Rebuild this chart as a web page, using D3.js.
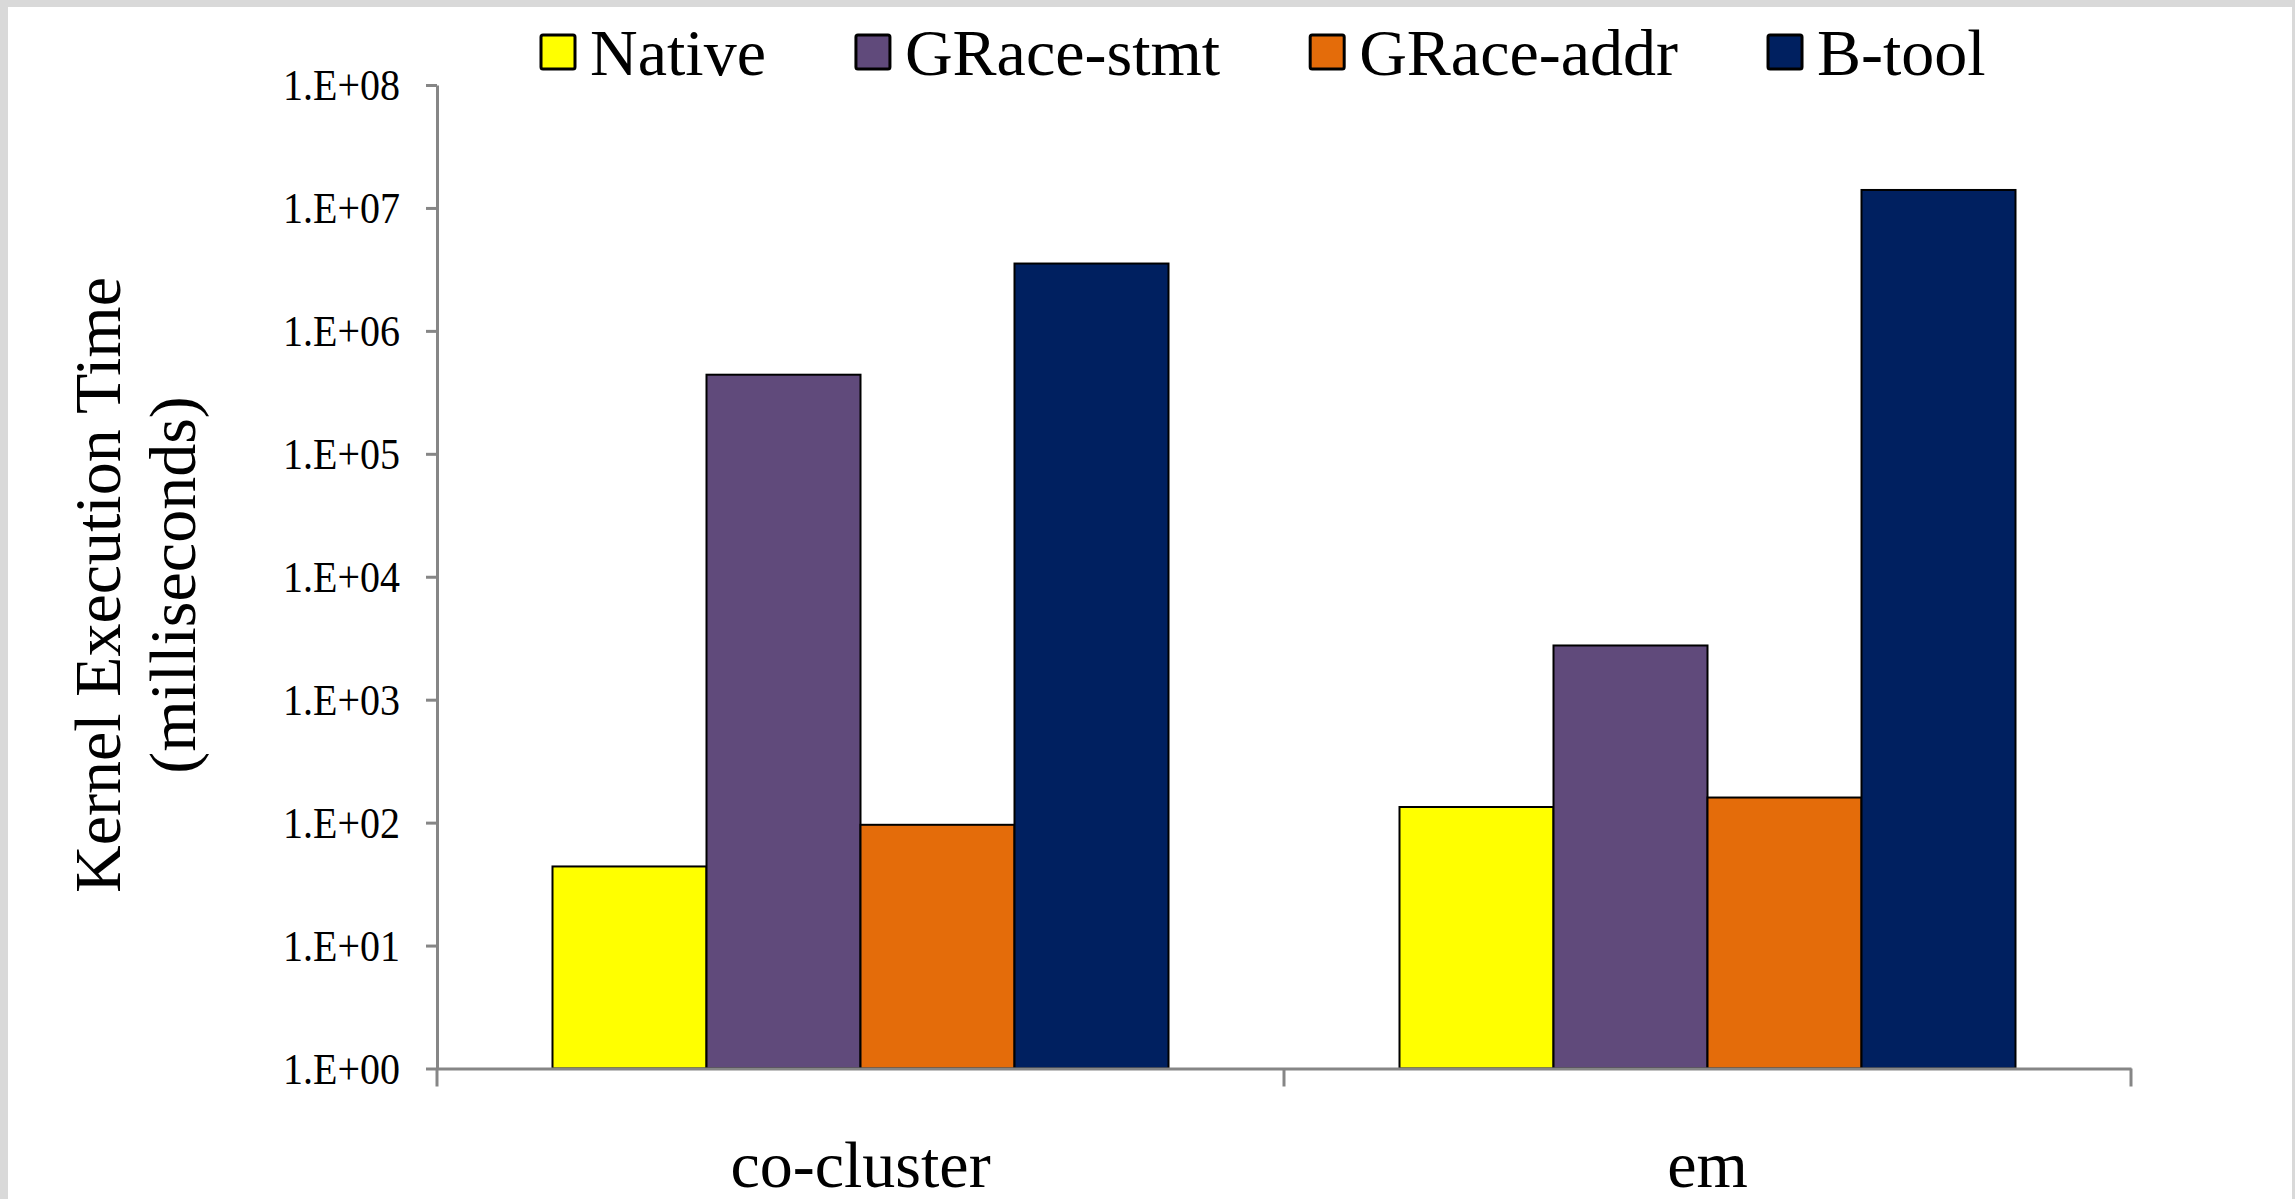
<!DOCTYPE html>
<html>
<head>
<meta charset="utf-8">
<script src="https://cdn.jsdelivr.net/npm/d3@7"></script>
<style>
  body { margin: 0; background: #ffffff; }
  text { font-family: "Times New Roman", "Liberation Serif", serif; fill: #000; }
</style>
</head>
<body>
<svg id="chart"></svg>
<script>
var svg_width = 2295
var svg_height = 1199

// data
var categories = ["co-cluster", "em"]
var series = ["Native", "GRace-stmt", "GRace-addr", "B-tool"]
var colors = ["#ffff00", "#604a7b", "#e46c0a", "#002060"]
var nativeVals = [44, 134]
var graceStmtVals = [440000, 2760]
var graceAddrVals = [96, 160]
var btoolVals = [3530000, 14000000]
var tickValues = [1, 10, 100, 1000, 10000, 100000, 1000000, 10000000, 100000000]

var seriesVals = [nativeVals, graceStmtVals, graceAddrVals, btoolVals]

// plot area (note: "top" is reserved on window)
var plotLeft = 437, plotRight = 2131, plotTop = 85, plotBottom = 1068.5

var svg = d3.select("#chart")
    .attr("width", svg_width)
    .attr("height", svg_height)

// gray frame
svg.append("rect")
    .attr("width", svg_width).attr("height", svg_height)
    .attr("fill", "#d9d9d9")
svg.append("rect")
    .attr("x", 8).attr("y", 7)
    .attr("width", svg_width - 11).attr("height", svg_height)
    .attr("fill", "#ffffff")

//SCALES
var yScale = d3.scaleLog()
               .domain([1, 1e8])
               .range([plotBottom, plotTop])

var x0 = d3.scaleBand()
           .domain(categories)
           .range([plotLeft, plotRight])
           .padding(0)

var x1 = d3.scaleBand()
           .domain(series)
           .range([0, x0.bandwidth()])
           .paddingInner(0)
           .paddingOuter(0.75)

var color = d3.scaleOrdinal().domain(series).range(colors)

// bars
var groups = svg.selectAll("g.group")
    .data(categories)
    .enter()
    .append("g")
      .attr("class", "group")
      .attr("transform", function(d) { return "translate(" + x0(d) + ",0)" })

groups.selectAll("rect")
    .data(function(c, ci) {
        return series.map(function(s, si) { return { key: s, value: seriesVals[si][ci] } })
    })
    .enter()
    .append("rect")
      .attr("x", function(d) { return x1(d.key) })
      .attr("y", function(d) { return yScale(d.value) })
      .attr("width", x1.bandwidth())
      .attr("height", function(d) { return plotBottom - yScale(d.value) })
      .attr("fill", function(d) { return color(d.key) })
      .attr("stroke", "#000")
      .attr("stroke-width", 2)

// y axis
var yAxis = d3.axisLeft(yScale)
              .tickValues(tickValues)
              .tickFormat(function(d) {
                  var e = Math.round(Math.log10(d))
                  return "1.E+" + (e < 10 ? "0" + e : e)
              })
              .tickSize(11)
              .tickSizeOuter(0)
              .tickPadding(26)

var yg = svg.append("g")
    .attr("transform", "translate(" + plotLeft + ",0)")
    .call(yAxis)
yg.select(".domain").attr("stroke", "#868686").attr("stroke-width", 3)
yg.selectAll(".tick line").attr("stroke", "#868686").attr("stroke-width", 3)
yg.selectAll(".tick text")
    .attr("font-size", 40)
    .attr("font-family", "'Times New Roman', 'Liberation Serif', serif")
    .attr("dy", "0.33em")
    .attr("transform", "scale(1,1.12)")

// x axis
var xAxis = d3.axisBottom(x0).tickSize(0).tickSizeOuter(0)
var xg = svg.append("g")
    .attr("transform", "translate(0," + plotBottom + ")")
    .call(xAxis)
xg.select(".domain").attr("stroke", "#868686").attr("stroke-width", 3)
xg.selectAll(".tick text")
    .attr("font-size", 66)
    .attr("font-family", "'Times New Roman', 'Liberation Serif', serif")
    .attr("y", 118)
    .attr("dy", 0)

// category boundary ticks
var bounds = categories.map(function(c) { return x0(c) }).concat([x0.range()[1]])
xg.selectAll("line.bound")
    .data(bounds)
    .enter()
    .append("line")
      .attr("class", "bound")
      .attr("x1", function(d) { return d }).attr("x2", function(d) { return d })
      .attr("y1", 0).attr("y2", 18)
      .attr("stroke", "#868686")
      .attr("stroke-width", 3)

// y axis title
var title = svg.append("text")
    .attr("transform", "translate(0," + 585 + ") rotate(-90)")
    .attr("text-anchor", "middle")
    .attr("font-size", 66)
title.append("tspan").attr("x", 0).attr("y", 120).text("Kernel Execution Time")
title.append("tspan").attr("x", 0).attr("y", 195).text("(milliseconds)")

// legend
var legend = svg.append("g")
var lx = 541
series.forEach(function(s, i) {
    legend.append("rect")
        .attr("x", lx).attr("y", 35)
        .attr("width", 34).attr("height", 34)
        .attr("rx", 2)
        .attr("fill", colors[i])
        .attr("stroke", "#000")
        .attr("stroke-width", 3)
    var t = legend.append("text")
        .attr("x", lx + 49).attr("y", 75)
        .attr("font-size", 66)
        .text(s)
    lx = lx + 49 + t.node().getComputedTextLength() + 90
})
</script>
</body>
</html>
